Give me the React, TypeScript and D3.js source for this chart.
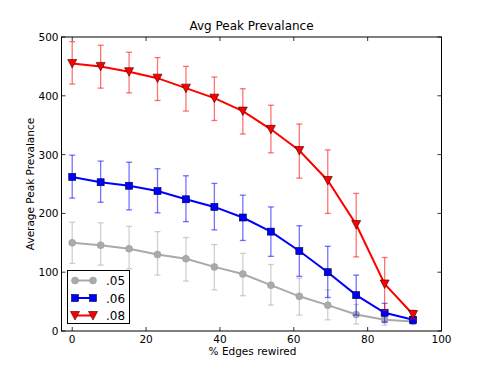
import { useEffect, useRef } from "react";
import * as d3 from "d3";

// % edges rewired
const rewired = [0, 7.7, 15.4, 23.1, 30.8, 38.5, 46.2, 53.8, 61.5, 69.2, 76.9, 84.6, 92.3];

// series ".05"
const gray = [150, 146, 140, 130, 123, 109, 97, 78, 59, 44, 28, 19, 16];
const grayLo = [115, 112, 106, 95, 85, 70, 60, 44, 27, 19, 12, 10, 12];
const grayHi = [185, 184, 178, 169, 159, 147, 132, 113, 90, 70, 45, 28, 20];

// series ".06"
const blue = [262, 253, 247, 238, 224, 211, 193, 169, 136, 100, 61, 31, 19];
const blueLo = [226, 219, 206, 201, 186, 172, 154, 127, 93, 57, 27, 15, 13];
const blueHi = [299, 289, 287, 276, 264, 251, 231, 211, 179, 144, 95, 47, 25];

// series ".08"
const red = [455, 450, 441, 430, 413, 396, 374, 343, 307, 256, 181, 80, 28];
const redLo = [420, 413, 405, 392, 374, 358, 335, 303, 260, 200, 126, 35, 21];
const redHi = [492, 486, 474, 465, 450, 432, 412, 384, 352, 308, 234, 125, 35];

const xTicks = [0, 20, 40, 60, 80, 100];
const yTicks = [0, 100, 200, 300, 400, 500];

const series = [
  { label: ".05", color: "#aaaaaa", marker: "circle", vals: gray, lo: grayLo, hi: grayHi },
  { label: ".06", color: "#0000ff", marker: "square", vals: blue, lo: blueLo, hi: blueHi },
  { label: ".08", color: "#ff0000", marker: "triangle", vals: red, lo: redLo, hi: redHi },
];

const FONT = "'DejaVu Sans', sans-serif";

function drawMarker(g: any, kind: string, color: string, x: number, y: number) {
  if (kind === "circle") {
    g.append("circle").attr("cx", x).attr("cy", y).attr("r", 3.5)
      .attr("fill", color).attr("stroke", "#999999").attr("stroke-width", 0.5);
  } else if (kind === "square") {
    g.append("rect").attr("x", x - 3.5).attr("y", y - 3.5).attr("width", 7).attr("height", 7)
      .attr("fill", color).attr("stroke", "#000033").attr("stroke-width", 0.6);
  } else {
    g.append("path")
      .attr("d", `M${x - 4.5},${y - 4} L${x + 4.5},${y - 4} L${x},${y + 4.5} Z`)
      .attr("fill", color).attr("stroke", "#330000").attr("stroke-width", 0.6);
  }
}

export default function App() {
  const ref = useRef<SVGSVGElement>(null);

  useEffect(() => {
    const svg = d3.select(ref.current);
    svg.selectAll("*").remove();

    const left = 61.5, right = 441.5, top = 37, bottom = 331;

    const x = d3.scaleLinear().domain([-2.9, 100]).range([left, right]);
    const y = d3.scaleLinear().domain([0, 500]).range([bottom, top]);

    const plot = svg.append("g");

    series.forEach((s) => {
      // error bars
      const eb = plot.append("g").attr("stroke", s.color).attr("stroke-opacity", 0.55).attr("stroke-width", 1.3);
      rewired.forEach((r, i) => {
        const cx = x(r);
        eb.append("line").attr("x1", cx).attr("x2", cx).attr("y1", y(s.lo[i])).attr("y2", y(s.hi[i]));
        eb.append("line").attr("x1", cx - 3).attr("x2", cx + 3).attr("y1", y(s.lo[i])).attr("y2", y(s.lo[i]));
        eb.append("line").attr("x1", cx - 3).attr("x2", cx + 3).attr("y1", y(s.hi[i])).attr("y2", y(s.hi[i]));
      });

      const line = d3.line<number>().x((_, i) => x(rewired[i])).y((d) => y(d));
      plot.append("path").datum(s.vals).attr("fill", "none").attr("stroke", s.color)
        .attr("stroke-width", 2).attr("d", line);

      const mk = plot.append("g");
      s.vals.forEach((v, i) => drawMarker(mk, s.marker, s.color, x(rewired[i]), y(v)));
    });

    // frame
    svg.append("rect").attr("x", left).attr("y", top).attr("width", right - left).attr("height", bottom - top)
      .attr("fill", "none").attr("stroke", "#000").attr("stroke-width", 1);

    // ticks (inward, all four sides)
    const tk = svg.append("g").attr("stroke", "#000").attr("stroke-width", 0.8);
    xTicks.forEach((t) => {
      tk.append("line").attr("x1", x(t)).attr("x2", x(t)).attr("y1", bottom).attr("y2", bottom - 4);
      tk.append("line").attr("x1", x(t)).attr("x2", x(t)).attr("y1", top).attr("y2", top + 4);
    });
    yTicks.forEach((t) => {
      tk.append("line").attr("x1", left).attr("x2", left + 4).attr("y1", y(t)).attr("y2", y(t));
      tk.append("line").attr("x1", right).attr("x2", right - 4).attr("y1", y(t)).attr("y2", y(t));
    });

    const lab = svg.append("g").attr("font-family", FONT).attr("fill", "#000");
    xTicks.forEach((t) => {
      lab.append("text").attr("x", x(t)).attr("y", bottom + 12).attr("text-anchor", "middle")
        .attr("font-size", 10.5).text(t);
    });
    yTicks.forEach((t) => {
      lab.append("text").attr("x", left - 3).attr("y", y(t) + 4).attr("text-anchor", "end")
        .attr("font-size", 10.5).text(t);
    });

    lab.append("text").attr("x", (left + right) / 2).attr("y", 30).attr("text-anchor", "middle")
      .attr("font-size", 12).text("Avg Peak Prevalance");
    lab.append("text").attr("x", (left + right) / 2 + 1).attr("y", 355).attr("text-anchor", "middle")
      .attr("font-size", 10.5).text("% Edges rewired");
    lab.append("text").attr("transform", `translate(34,${(top + bottom) / 2}) rotate(-90)`)
      .attr("text-anchor", "middle").attr("font-size", 10.5).text("Average Peak Prevalance");

    // legend
    const lg = svg.append("g");
    lg.append("rect").attr("x", 67.5).attr("y", 270.5).attr("width", 62).attr("height", 53)
      .attr("fill", "#fff").attr("stroke", "#000").attr("stroke-width", 1);
    series.forEach((s, i) => {
      const ly = 280.5 + i * 17.5;
      lg.append("line").attr("x1", 75).attr("x2", 93).attr("y1", ly).attr("y2", ly)
        .attr("stroke", s.color).attr("stroke-width", 2);
      drawMarker(lg, s.marker, s.color, 75, ly);
      drawMarker(lg, s.marker, s.color, 93, ly);
      lg.append("text").attr("x", 106).attr("y", ly + 4.5).attr("font-family", FONT)
        .attr("font-size", 12).text(s.label);
    });
  }, []);

  return (
    <svg ref={ref} width={491} height={368}
      style={{ position: "absolute", left: 0, top: 0, background: "#fff" }} />
  );
}
